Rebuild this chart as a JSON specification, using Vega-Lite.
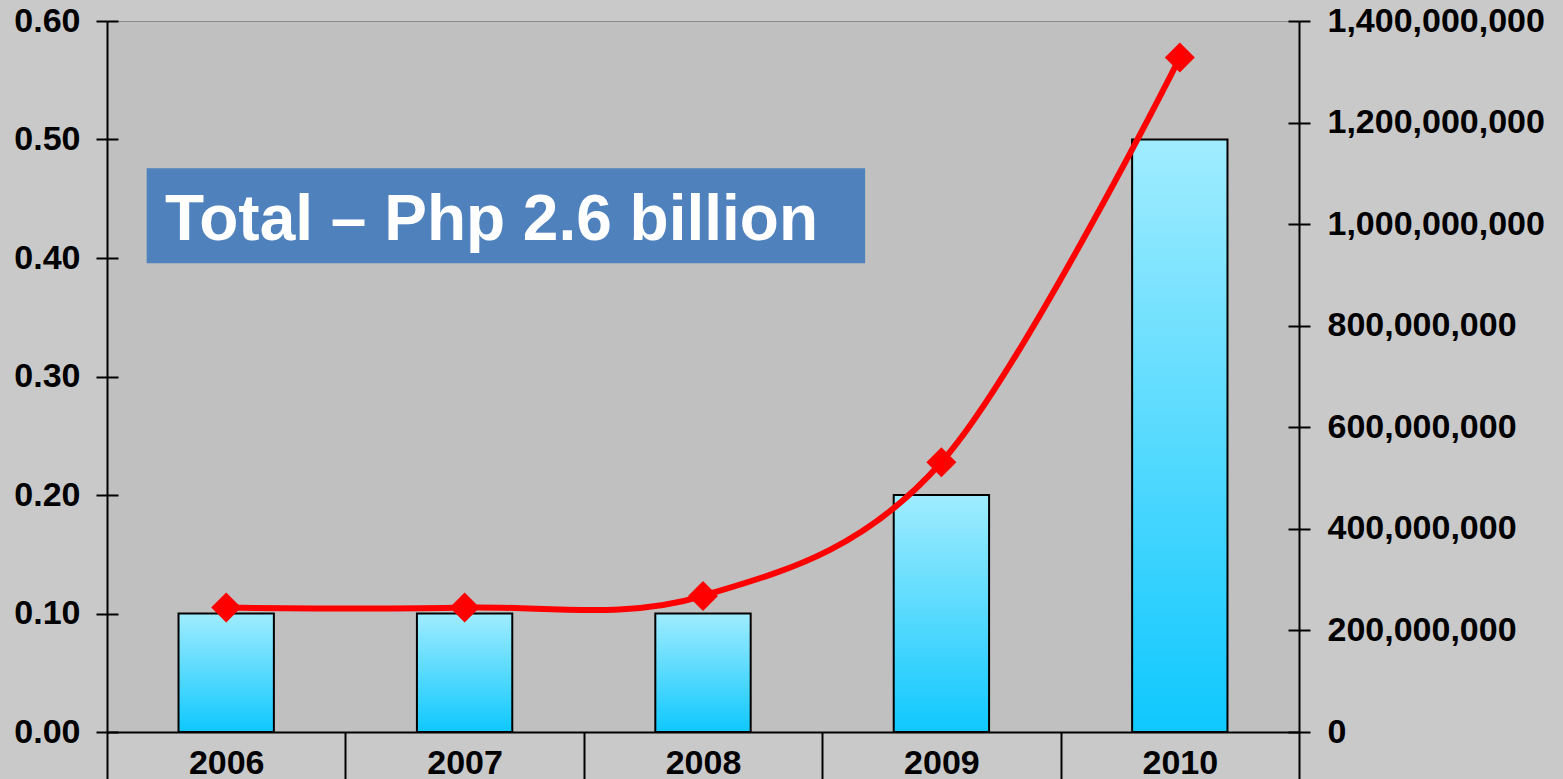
{
  "$schema": "https://vega.github.io/schema/vega-lite/v6.json",
  "width": 1192,
  "height": 711,
  "autosize": "none",
  "padding": {"left": 107, "top": 21, "right": 264, "bottom": 47},
  "background": "#c9c9ca",
  "view": {"fill": "#c0c0c0", "stroke": "#8c8c8c", "strokeWidth": 1},
  "config": {
    "font": "Liberation Sans",
    "axis": {
      "labelFont": "Liberation Sans",
      "labelFontSize": 34,
      "labelFontWeight": "bold",
      "labelColor": "#000000",
      "labelLimit": 0,
      "domainColor": "#000000",
      "domainWidth": 2,
      "tickColor": "#000000",
      "tickWidth": 2,
      "grid": false,
      "title": null
    }
  },
  "data": {
    "values": [
      {"year": "2006", "share": 0.10, "amount": 245000000},
      {"year": "2007", "share": 0.10, "amount": 245000000},
      {"year": "2008", "share": 0.10, "amount": 268000000},
      {"year": "2009", "share": 0.20, "amount": 531000000},
      {"year": "2010", "share": 0.50, "amount": 1328000000}
    ]
  },
  "layer": [
    {
      "layer": [
        {
          "mark": {
            "type": "bar",
            "width": {"band": 0.4},
            "fill": {
              "gradient": "linear",
              "x1": 0, "y1": 0, "x2": 0, "y2": 1,
              "stops": [
                {"offset": 0, "color": "#a0ecfe"},
                {"offset": 1, "color": "#0fc8fe"}
              ]
            },
            "stroke": "#000000",
            "strokeWidth": 2
          },
          "encoding": {
            "x": {
              "field": "year",
              "type": "ordinal",
              "scale": {"paddingInner": 0, "paddingOuter": 0},
              "axis": {
                "orient": "bottom",
                "tickBand": "extent",
                "tickSize": 50,
                "labelPadding": -36,
                "labelAngle": 0,
                "labelOverlap": false,
                "title": null
              }
            },
            "y": {
              "field": "share",
              "type": "quantitative",
              "scale": {"domain": [0, 0.6], "nice": false},
              "axis": {
                "orient": "left",
                "values": [0, 0.1, 0.2, 0.3, 0.4, 0.5, 0.6],
                "format": ".2f",
                "tickSize": 11,
                "labelPadding": 16,
                "title": null
              }
            }
          }
        },
        {
          "mark": {"type": "line", "interpolate": "cardinal", "color": "#ff0000", "strokeWidth": 6},
          "encoding": {
            "x": {"field": "year", "type": "ordinal"},
            "y": {
              "field": "amount",
              "type": "quantitative",
              "scale": {"domain": [0, 1400000000], "nice": false},
              "axis": {
                "orient": "right",
                "values": [0, 200000000, 400000000, 600000000, 800000000, 1000000000, 1200000000, 1400000000],
                "format": ",.0f",
                "tickSize": 11,
                "labelPadding": 17,
                "title": null
              }
            }
          }
        },
        {
          "mark": {"type": "point", "shape": "diamond", "filled": true, "color": "#ff0000", "opacity": 1, "size": 900},
          "encoding": {
            "x": {"field": "year", "type": "ordinal"},
            "y": {
              "field": "amount",
              "type": "quantitative",
              "scale": {"domain": [0, 1400000000], "nice": false},
              "axis": {
                "orient": "right",
                "values": [0, 200000000, 400000000, 600000000, 800000000, 1000000000, 1200000000, 1400000000],
                "tickSize": -11,
                "labels": false,
                "domain": false,
                "title": null
              }
            }
          }
        }
      ],
      "resolve": {"scale": {"y": "independent"}}
    },
    {
      "data": {"values": [{"label": "Total – Php 2.6 billion"}]},
      "layer": [
        {
          "mark": {"type": "rect", "color": "#4f81bd"},
          "encoding": {
            "x": {"datum": 0.1665, "type": "quantitative", "scale": {"domain": [0, 5], "nice": false}, "axis": null},
            "x2": {"datum": 3.18},
            "y": {
              "datum": 0.3955,
              "type": "quantitative",
              "scale": {"domain": [0, 0.6], "nice": false},
              "axis": {
                "orient": "left",
                "values": [0, 0.1, 0.2, 0.3, 0.4, 0.5, 0.6],
                "tickSize": -11,
                "labels": false,
                "domain": false,
                "title": null
              }
            },
            "y2": {"datum": 0.4757}
          }
        },
        {
          "mark": {"type": "text", "color": "#ffffff", "fontSize": 64, "fontWeight": "bold", "font": "Liberation Sans", "align": "left", "baseline": "alphabetic"},
          "encoding": {
            "x": {"datum": 0.243, "type": "quantitative"},
            "y": {"datum": 0.4152, "type": "quantitative"},
            "text": {"field": "label"}
          }
        }
      ]
    }
  ],
  "resolve": {"scale": {"x": "independent", "y": "independent"}}
}
